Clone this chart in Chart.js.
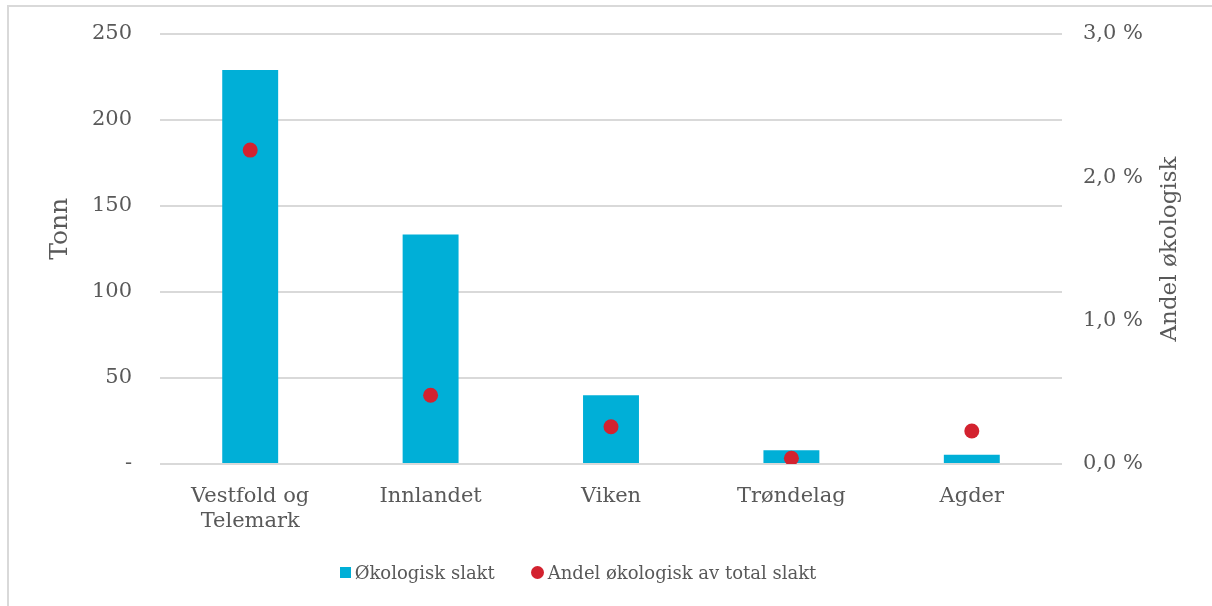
<!DOCTYPE html>
<html><head><meta charset="utf-8">
<script src="https://cdn.jsdelivr.net/npm/chart.js@4"></script>
<style>
html,body{margin:0;padding:0;background:#fff;}
#wrap{position:relative;width:1212px;height:606px;overflow:hidden;}
#frame{position:absolute;left:7px;top:5px;width:1220px;height:620px;border-left:2px solid #d9d9d9;border-top:2px solid #d9d9d9;box-sizing:border-box;pointer-events:none;}
#c{position:absolute;left:0;top:0;}
#legend{position:absolute;left:0;top:562px;width:1156px;display:flex;justify-content:center;align-items:center;font-family:"DejaVu Serif",serif;font-size:18px;color:#595959;}
.item{display:flex;align-items:center;margin:0 18px;}
.mk{display:inline-block;margin-right:4px;}
</style></head>
<body>
<div id="wrap">
<canvas id="c" width="1212" height="606"></canvas>
<div id="frame"></div>
<div id="legend"></div>
</div>
<script>
const categories = [["Vestfold og","Telemark"], "Innlandet", "Viken", "Trøndelag", "Agder"];
const tonnValues = [229, 133.5, 40, 8, 5.4];
const shareValues = [2.19, 0.48, 0.26, 0.04, 0.23];
const leftTicks = [0, 50, 100, 150, 200, 250];
const rightTicks = [0, 1, 2, 3];
const seriesNames = ["Økologisk slakt", "Andel økologisk av total slakt"];
const seriesColors = ["#00AFD7", "#D3222F"];
const leftTitle = "Tonn";
const rightTitleText = "Andel økologisk";

const FONT = "DejaVu Serif";
const GREY = "#595959";

const axisTitles = {
  id: "axisTitles",
  afterDraw(chart) {
    const ctx = chart.ctx;
    const ca = chart.chartArea;
    ctx.save();
    ctx.fillStyle = GREY;
    ctx.textAlign = "center";
    ctx.textBaseline = "middle";
    ctx.translate(60, ca.top + (ca.bottom - ca.top) * 0.453);
    ctx.rotate(-Math.PI / 2);
    ctx.font = "25px '" + FONT + "'";
    ctx.fillText(leftTitle, 0, 0);
    ctx.restore();
    ctx.save();
    ctx.fillStyle = GREY;
    ctx.textAlign = "center";
    ctx.textBaseline = "middle";
    ctx.translate(1170, (ca.top + ca.bottom) / 2);
    ctx.rotate(-Math.PI / 2);
    ctx.font = "23px '" + FONT + "'";
    ctx.fillText(rightTitleText, 0, 0);
    ctx.restore();
  }
};

new Chart(document.getElementById("c"), {
  data: {
    labels: categories,
    datasets: [
      {
        type: "bar",
        label: seriesNames[0],
        data: tonnValues,
        backgroundColor: seriesColors[0],
        yAxisID: "y",
        categoryPercentage: 1,
        barPercentage: 0.31,
        order: 2
      },
      {
        type: "line",
        label: seriesNames[1],
        data: shareValues,
        showLine: false,
        pointRadius: 7.5,
        pointHoverRadius: 7.5,
        pointBackgroundColor: seriesColors[1],
        pointBorderWidth: 0,
        borderColor: seriesColors[1],
        backgroundColor: seriesColors[1],
        yAxisID: "y1",
        order: 1
      }
    ]
  },
  options: {
    responsive: false,
    animation: false,
    layout: { padding: { left: 47, right: 0, top: 34, bottom: 62 } },
    plugins: {
      legend: { display: false },
      tooltip: { enabled: false }
    },
    scales: {
      x: {
        grid: { display: false, drawTicks: false },
        border: { display: false },
        ticks: { color: GREY, font: { family: FONT, size: 21, lineHeight: 1.2 }, padding: 20, maxRotation: 0, autoSkip: false },
        afterFit(s) { s.height = 80; }
      },
      y: {
        position: "left",
        min: 0, max: 250,
        afterBuildTicks(s) { s.ticks = leftTicks.map(v => ({ value: v })); },
        grid: { color: "#d9d9d9", lineWidth: 2, drawTicks: false },
        border: { display: false },
        ticks: {
          color: GREY, font: { family: FONT, size: 21 }, padding: 28,
          callback: v => v === 0 ? "-" : String(v)
        },
        afterFit(s) { s.width = 113; s.paddingTop = 0; s.paddingBottom = 0; }
      },
      y1: {
        position: "right",
        min: 0, max: 3,
        afterBuildTicks(s) { s.ticks = rightTicks.map(v => ({ value: v })); },
        grid: { display: false, drawTicks: false },
        border: { display: false },
        ticks: {
          color: GREY, font: { family: FONT, size: 21 }, padding: 21,
          callback: v => v.toFixed(1).replace(".", ",") + " %"
        },
        afterFit(s) { s.width = 150; s.paddingTop = 0; s.paddingBottom = 0; }
      }
    }
  },
  plugins: [axisTitles]
});

const lg = document.getElementById("legend");
seriesNames.forEach((name, i) => {
  const it = document.createElement("div");
  it.className = "item";
  const mk = document.createElement("span");
  mk.className = "mk";
  if (i === 0) { mk.style.cssText = "width:11px;height:11px;background:" + seriesColors[0]; }
  else { mk.style.cssText = "width:13px;height:13px;border-radius:50%;background:" + seriesColors[1]; }
  const tx = document.createElement("span");
  tx.textContent = name;
  it.appendChild(mk); it.appendChild(tx);
  lg.appendChild(it);
});
</script>
</body></html>
